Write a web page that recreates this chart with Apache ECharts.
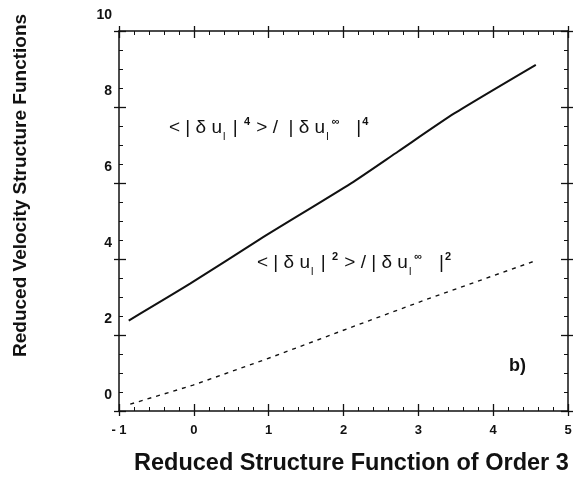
<!DOCTYPE html>
<html>
<head>
<meta charset="utf-8">
<script src="https://cdn.jsdelivr.net/npm/echarts@6/dist/echarts.min.js"></script>
<style>
  html, body { margin: 0; padding: 0; background: #fff; }
  #chart { width: 579px; height: 480px; }
</style>
</head>
<body>
<div id="chart"></div>
<script>
// values
const order3 = [-0.87, -0.05, 0.89, 2.10, 2.73, 3.48, 4.57]
const flat4 = [2.38, 3.35, 4.53, 5.99, 6.83, 7.83, 9.11]
const order3b = [-0.85, -0.01, 1.03, 2.10, 3.17, 4.56]
const flat2 = [0.18, 0.68, 1.41, 2.20, 2.98, 3.95]
const xTicks = [-1, 0, 1, 2, 3, 4, 5]
const yTicks = [0, 2, 4, 6, 8, 10]

const pairs = (xs, ys) => xs.map((x, i) => [x, ys[i]])

const font = 'Liberation Sans, Arial, sans-serif'
const ink = '#111'

const xAx = (pos, inside, main) => ({
  type: 'value',
  position: pos,
  min: xTicks[0],
  max: xTicks[xTicks.length - 1],
  interval: 1,
  axisLine: { show: main, onZero: false, lineStyle: { color: ink, width: 1.5 } },
  axisTick: { show: true, inside: inside, length: inside ? 7 : 5, lineStyle: { color: ink, width: 1.3 } },
  minorTick: { show: inside, splitNumber: 5, length: 4, lineStyle: { color: ink, width: 1 } },
  splitLine: { show: false },
  axisLabel: {
    show: main && pos === 'bottom',
    margin: 13,
    color: ink,
    fontFamily: font,
    fontWeight: 'bold',
    fontSize: 13,
    formatter: (v) => v < 0 ? '- ' + Math.abs(v) : String(v)
  }
})

const yAx = (pos, inside, main) => ({
  type: 'value',
  position: pos,
  min: yTicks[0],
  max: yTicks[yTicks.length - 1],
  interval: 2,
  axisLine: { show: main, onZero: false, lineStyle: { color: ink, width: 1.5 } },
  axisTick: { show: true, inside: inside, length: inside ? 7 : 5, lineStyle: { color: ink, width: 1.3 } },
  minorTick: { show: inside, splitNumber: 4, length: 4, lineStyle: { color: ink, width: 1 } },
  splitLine: { show: false },
  axisLabel: {
    show: main && pos === 'left',
    margin: 7,
    color: ink,
    fontFamily: font,
    fontWeight: 'bold',
    fontSize: 14,
    lineHeight: 31,
    // the printed labels sit a little above their ticks
    formatter: (v) => v + '\n '
  }
})

const richStyle = {
  b: { fontSize: 19, fontFamily: font, fill: ink, lineHeight: 34, verticalAlign: 'middle' },
  s: { fontSize: 11, fontFamily: font, fill: ink, lineHeight: 34, verticalAlign: 'bottom', padding: [0, 2, 3, 1] },
  p: { fontSize: 11, fontFamily: font, fontWeight: 'bold', fill: ink, lineHeight: 34, verticalAlign: 'top', padding: [5, 1, 0, 1] }
}

const chart = echarts.init(document.getElementById('chart'))

const option = {
  backgroundColor: '#fff',
  animation: false,
  grid: { left: 119, right: 11, top: 29, bottom: 69 },
  xAxis: [xAx('bottom', true, true), xAx('bottom', false, false), xAx('top', true, true), xAx('top', false, false)],
  yAxis: [yAx('left', true, true), yAx('left', false, false), yAx('right', true, true), yAx('right', false, false)],
  series: [
    {
      type: 'line',
      data: pairs(order3, flat4),
      showSymbol: false,
      smooth: 0.2,
      lineStyle: { color: ink, width: 2 }
    },
    {
      type: 'line',
      data: pairs(order3b, flat2),
      showSymbol: false,
      lineStyle: { color: ink, width: 1.4, type: [4, 5] }
    }
  ],
  graphic: [
    {
      type: 'text',
      left: 134,
      top: 452,
      style: {
        text: 'Reduced Structure Function of Order 3',
        font: 'bold 23.5px ' + font,
        fill: ink
      }
    },
    {
      type: 'text',
      x: 11,
      y: 357,
      rotation: Math.PI / 2,
      style: {
        text: 'Reduced Velocity Structure Functions',
        font: 'bold 19px ' + font,
        fill: ink
      }
    },
    {
      type: 'text',
      left: 169,
      top: 111,
      style: {
        text: '{b|< | δ u}{s|l}{b| | }{p|4}{b| > /  | δ u}{s|l}{p|∞}{b|   |}{p|4}',
        rich: richStyle
      }
    },
    {
      type: 'text',
      left: 257,
      top: 246,
      style: {
        text: '{b|< | δ u}{s|l}{b| | }{p|2}{b| > / | δ u}{s|l}{p|∞}{b|   |}{p|2}',
        rich: richStyle
      }
    },
    {
      type: 'text',
      left: 509,
      top: 357,
      style: { text: 'b)', font: 'bold 18px ' + font, fill: ink }
    }
  ]
}

chart.setOption(option)
</script>
</body>
</html>
